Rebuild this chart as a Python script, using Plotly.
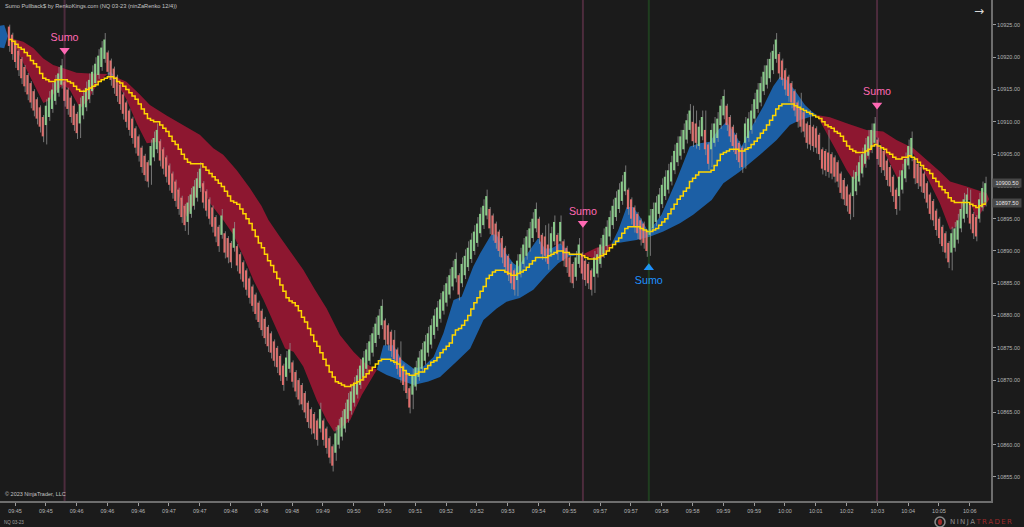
import plotly.graph_objects as go

BASE = 10900.0  # series below are points relative to this price
FIRST_BAR = -2

# Renko closes, one per bar, first row starts at bar -2
closes = [
    21.75, 20.5,
    19.25, 18, 16.75, 15.5, 14.25, 13, 11.75, 10.5, 9.25, 7.75,
    12.5, 13.75, 15, 16.25, 17.5, 18.75, 13.25, 12, 10.75, 9.5,
    8.25, 12.75, 14, 15.25, 16.5, 17.75, 19, 20.25, 21.5, 22.75,
    17.75, 16.5, 15.25, 14, 12.75, 11.25, 10, 8.75, 7.5, 6,
    4.75, 3, 1.75, .75, 6.25, 7.5, 8.75, 4, 2.75, 1.5,
    .25, -1, -2.25, -3.5, -4.75, -6, -2.5, -1.25, 0, 1.25,
    2.75, -2.5, -3.75, -5, -6.25, -7.75, -9.25, -4.5, -10.25, -11,
    -11.75, -6.5, -12.25, -13.5, -14.75, -16, -17.25, -18.5, -19.75, -21,
    -22.25, -23.5, -24.75, -25.75, -27, -28, -29.25, -30.75, -26.5, -25.25,
    -30.25, -31.75, -33, -33.75, -35, -36.5, -37.5, -38.25, -39.25, -34.5,
    -39.25, -40.5, -42, -43.25, -38.25, -37, -35.75, -34.5, -33, -31.75,
    -30.5, -29.25, -27.75, -26.5, -25.25, -24, -22.75, -21.25, -20, -18.5,
    -23.75, -24.5, -25.5, -26.75, -28.25, -29.5, -30.75, -32, -34.25, -29.25,
    -28, -26.5, -25.25, -24, -22.75, -21.5, -20, -18.75, -17.5, -16.25,
    -15, -13.75, -12.5, -11.25, -16.75, -12, -10.75, -9.5, -8.25, -7,
    -5.75, -4.25, -3, -1.5, -6.5, -7.5, -8.75, -10, -11, -12.5,
    -13.75, -15, -16, -11.5, -10.5, -9, -7.75, -6.5, -5, -3.5,
    -8, -10.5, -10.75, -12, -7.25, -5.5, -10.5, -5.5, -11.5, -12.5,
    -14, -15, -11, -9, -13.5, -14.5, -15, -16, -11, -10.5,
    -9, -7.5, -6.25, -4.75, -3, -1.75, -.5, .75, 2.25, -3.5,
    -5, -6.25, -7.25, -8.25, -8.75, -10, -4.5, -3.5, -2.5, -1.25,
    .25, 1.5, 2.5, 3.75, 5.5, 6.75, 7.75, 8.75, 10.25, 11.75,
    7, 6.75, 9.25, 10.75, 5.75, 3.5, 8.75, 9.75, 10.5, 12.5,
    14, 9.5, 7.75, 6.25, 5, 3.75, 3, 9.75, 10.5, 11.75,
    13.5, 15, 16, 17.75, 18.75, 19.75, 21, 22.75, 17.5, 16.5,
    15, 14, 13, 11.75, 10, 9.25, 8.5, 6.75, 6.5, 6.25,
    6, 5, 2.75, 2.5, 2.25, 2, 1.5, .75, -1, -2,
    -3, -4.25, 1.5, 2.25, 3.75, 5, 6.5, 7.75, 8.75, 9.75,
    4.25, 3, 2.5, 1, 0, -1.5, -3.5, 1.5, 2.5, 4.25,
    6.25, 7.5, 1.25, .5, 0, -1, -2.5, -4.25, -5.25, -6.75,
    -8, -9.25, -10.25, -11.75, -7.25, -6.5, -5.25, -3.5, -2, -1.25,
    -5.75, -7.25, -7.75, -2, -.25, .5,
]
BODY = 3.0
WICK_ABOVE_UP, WICK_BELOW_UP = 1.0, 0.6
WICK_ABOVE_DOWN, WICK_BELOW_DOWN = 0.3, 0.9
long_highs = {123: -22.25, 125: -24, 172: -6, 173: -5.75, 220: 12.5, 221: 11.75,
              224: 11.75, 255: 14.5, 258: 11.75, 264: 8.75, 310: -0.5}
long_lows = {10: 6.5, 21: 7.5, 44: 0.25, 56: -7.5, 104: -42.5, 129: -34.5, 163: -17,
             181: -15.75, 188: -16.5, 206: -10.75, 226: 3, 237: 2.75, 272: -4.75,
             287: -3.75, 304: -13, 312: -8.5}

# yellow stepped line, one per bar, same row layout as closes
middle = [
    22.75, 22.5,
    22, 21.5, 21.25, 20.75, 20.25, 19.5, 19, 18.5, 17.5, 16.75,
    16.5, 16.25, 16.25, 16.5, 16.5, 16.5, 16.5, 16.25, 16, 15.5,
    15, 14.75, 14.75, 15, 15.25, 15.5, 15.75, 16.25, 16.5, 16.75,
    17, 17, 16.75, 16.25, 16, 15.5, 15, 14.5, 14, 13.5,
    12.75, 12, 11.25, 10.5, 10.25, 10, 10, 9.5, 9, 8.5,
    7.75, 7, 6.5, 5.75, 5, 4.25, 3.75, 3.5, 3.5, 3.5,
    3.5, 3, 2.5, 2, 1.5, 1, .5, 0, -.75, -1.5,
    -2.25, -2.5, -2.75, -3.5, -4.25, -5, -5.75, -6.75, -7.75, -8.75,
    -9.5, -10.5, -11.5, -12.25, -13.25, -14.25, -15.25, -16.25, -17.25, -17.75,
    -18, -18.5, -19.25, -20.25, -21, -22, -23, -24, -24.75, -25.75,
    -26.75, -27.75, -28.75, -29.5, -30.25, -30.5, -30.75, -31, -31, -30.75,
    -30.5, -30.25, -30, -29.5, -29, -28.5, -28, -27.5, -27, -26.75,
    -26.75, -26.75, -27, -27.25, -27.5, -28, -28.5, -29, -29.25, -29.25,
    -29, -28.75, -28.75, -28.25, -27.75, -27.25, -27, -26.5, -25.75, -25.25,
    -24.75, -24.25, -23, -22.25, -22, -21.5, -20.75, -20, -19, -18,
    -17.25, -16.25, -15.5, -14.25, -13.75, -13.25, -13, -13, -13, -13.25,
    -13.5, -13.75, -13.75, -13.5, -13.25, -13, -12.5, -12, -11.5, -11,
    -11, -11, -11, -10.75, -10.5, -10.25, -10, -10, -10.25, -10.25,
    -10.5, -10.5, -10.5, -10.5, -10.75, -11, -11.25, -11.25, -11.25, -11,
    -10.75, -10.5, -10, -9.5, -9, -8.5, -8, -7.25, -6.5, -6.25,
    -6.25, -6.25, -6.25, -6.5, -6.75, -7, -7, -6.75, -6.5, -6,
    -5.5, -5, -4.25, -3.5, -2.75, -2, -1.5, -.75, -.25, .75,
    1.25, 1.75, 2.25, 2.25, 2.25, 2.25, 2.5, 3.25, 4, 5,
    5.25, 5.5, 5.75, 5.75, 5.75, 5.5, 5.5, 5.75, 6, 6.5,
    7, 7.5, 8.25, 8.75, 9.5, 10.25, 11, 12, 12.5, 12.75,
    12.75, 12.75, 12.75, 12.5, 12.25, 12, 11.75, 11.5, 11.25, 11,
    10.75, 10.5, 10, 9.5, 9.25, 9, 8.5, 8.25, 7.75, 7,
    6.25, 5.75, 5.5, 5.25, 5.25, 5.25, 5.5, 5.75, 6.25, 6.5,
    6.25, 6, 5.75, 5.25, 5, 4.5, 4.25, 4.25, 4.5, 4.5,
    4.75, 4.5, 4.25, 3.75, 3.25, 2.75, 2.5, 2, 1.25, .75,
    0, -.5, -1, -1.75, -2.25, -2.5, -2.5, -2.5, -2.5, -2.5,
    -2.75, -3, -3.25, -3, -2.75, -2.5,
]

# cloud pieces between the two averages
blue_0_top_x = [-4.87, -3.5, -2.3]
blue_0_top = [24.9, 25, 23.3]
blue_0_bot_x = [-4.87, -3.5, -2.3]
blue_0_bot = [21.5, 21.4, 23.3]

red_1_top_x = [-2.3, -1.1, 2.7, 6, 9.2, 12.4, 15.7, 20, 24.4, 28.7, 30]
red_1_top = [23.3, 22.9, 22.4, 21.4, 19.8, 18.8, 18.3, 17.6, 17.5, 17.5, 17.4]
red_1_bot_x = [-2.3, -1.1, 1.6, 4.9, 9.2, 11.4, 13, 15.7, 17.9, 21.1, 23.8, 26.5, 29, 30]
red_1_bot = [23.3, 22.7, 20.1, 17, 12.9, 13.4, 14.7, 15.7, 14.9, 12.1, 13.4, 15.7, 17, 17.4]

blue_2_top_x = [30, 31, 32.5]
blue_2_top = [17.4, 17.8, 17]
blue_2_bot_x = [30, 31, 32.5]
blue_2_bot = [17.4, 17.2, 17]

red_3_top_x = [32.5, 36.2, 40.6, 43.8, 49.2, 54.7, 60, 64.4, 67.6, 72, 76.3, 80, 82.3, 86, 89.3,
               93.6, 97.4, 101.2, 105.5, 109.9, 113.7, 117.5]
red_3_top = [17, 16.2, 14.2, 12.6, 11, 9.5, 8, 5.9, 4.9, 2.5, -.3, -3, -5.2, -7.8, -10.1,
             -12.9, -16, -18.9, -23, -25.6, -27.4, -28.4]
red_3_bot_x = [32.5, 33, 36.3, 39.5, 42.8, 46.5, 49.2, 53, 55.7, 57.9, 60, 63.3, 67.6, 70.9, 74.2,
               77.4, 80.7, 84.4, 87.7, 90.4, 93.6, 98, 101.2, 103.6, 105.5, 108.8, 112.6, 117.5]
red_3_bot = [17, 16.2, 13.4, 9.8, 6.7, 6.9, 3.6, -1.1, -4.7, -2.9, .5, -2.6, -5.2, -7.5, -10.9,
             -14.5, -17.6, -21.5, -25.1, -25.6, -27.9, -33.1, -36.2, -38, -37.5, -36.2, -32.3, -28.4]

blue_4_top_x = [117.5, 119.6, 122.9, 125.6, 129.4, 132.6, 135.9, 139.1, 142.4, 145, 148.8, 151, 154.7,
                156.4, 159, 161.8, 163.4, 169.9, 172, 174.2, 177, 180.2, 184.5]
blue_4_top = [-28.4, -24.6, -24.6, -26.9, -28.2, -27.9, -26.4, -22.75, -17.6, -17.1, -12.4, -10.4, -7.4,
              -7.5, -10.1, -11.9, -12.4, -8, -9.6, -9.6, -8.8, -10.4, -10.5]
blue_4_bot_x = [117.5, 120.7, 125, 129.4, 134.2, 138, 143.4, 147.8, 152.1, 156.4, 159.6, 163.9, 168.3,
                172.6, 176.4, 179.6, 184.5]
blue_4_bot = [-28.4, -29.2, -30, -30.75, -30.2, -29.5, -27.1, -25.1, -20.7, -18.9, -17.85, -17.3, -16,
              -13.7, -11.9, -10.9, -10.5]

red_5_top_x = [184.5, 188.8, 193.7]
red_5_top = [-10.5, -9.5, -8.9]
red_5_bot_x = [184.5, 189.4, 192.1, 193.7]
red_5_bot = [-10.5, -11.5, -10.4, -8.9]

blue_6_top_x = [193.7, 195.9, 198.6, 200.7, 202.9, 205.6, 207, 209.9, 214.8, 219.1, 222.4, 225.6, 228.3,
                231, 233.8, 235.9, 238.6, 243, 246.2, 248.4, 250.5, 253.2, 256.5, 258.7, 260.3]
blue_6_top = [-8.9, -6.75, -3.2, -3.2, -4.7, -7, -6.2, -4.4, 1, 6.2, 6.7, 6.9, 8.75,
              10, 8.2, 6.2, 8.75, 12.4, 15.5, 17, 16.5, 14.9, 12.6, 11.6, 11.07]
blue_6_bot_x = [193.7, 196.4, 201.8, 206.1, 210.5, 215.9, 220.2, 226.2, 230, 235.4, 241.9, 247.3,
                251.6, 254.9, 260.3]
blue_6_bot = [-8.9, -8.7, -8.3, -7.8, -7, -5.7, -4.4, -2.1, .5, 2.3, 4.9, 7.2,
              9.5, 10.3, 11.07]

red_7_top_x = [260.3, 264.6, 270, 276.5, 281.9, 286.2, 291.7, 296, 300.3, 303.6, 309, 315.5, 316.3]
red_7_top = [11.07, 10.7, 9.8, 8.75, 8.5, 7.2, 5.9, 4.1, 2.3, .75, 0, -1.07, -2]
red_7_bot_x = [260.3, 262.4, 266.8, 270, 272.2, 274.9, 277.6, 279.8, 280.8, 284.1, 286.8, 289.5, 291.1,
               293.8, 297.1, 300.3, 303.6, 305.7, 308.4, 310, 312.2, 316.3]
red_7_bot = [11.07, 9.3, 5.4, 2.55, 1, 2.3, 5.1, 7.7, 6.9, 3.6, 1, 3.6, 5.4,
             3.6, .5, -2.6, -6.7, -6.2, -2.1, -2.1, -5.2, -2]

# x axis
tick_bars = list(range(0, 320, 10))
tick_labels = ["09:45", "09:45", "09:46", "09:46", "09:46", "09:47", "09:47", "09:48", "09:48", "09:48",
               "09:49", "09:50", "09:50", "09:51", "09:52", "09:52", "09:53", "09:54", "09:55", "09:57", "09:57",
               "09:58", "09:58", "09:59", "09:59", "10:00", "10:01", "10:02", "10:03", "10:04", "10:05", "10:06"]
price_ticks = [10855, 10860, 10865, 10870, 10875, 10880, 10885, 10890, 10895, 10900, 10905, 10910, 10915, 10920, 10925]

# Sumo signals
sell_bars = [16.1, 184.4, 279.9]
sell_prices = [21.1, -5.7, 12.6]
sell_text_prices = [23, -4, 14.5]
buy_bars = [205.8]
buy_prices = [-12.6]
buy_text_prices = [-14.65]

last_prices = [10900.50, 10897.50]

BG = "#1b1b1b"
AXIS = "#6e6e6e"
TEXT = "#b4b4b4"
RED = "#8d1730"
BLUE = "#1c5fa5"
PINK = "#ff69b4"
DODGER = "#1e90ff"
FONT = "Liberation Sans"

PLOT_W, PLOT_H = 991.0, 501.0
X_RANGE = [-4.87, 316.9]
Y_RANGE = [BASE - 48.72, BASE + 28.87]


def px(x):
    return x / PLOT_W


def py(y):
    return (PLOT_H - y) / PLOT_H


def label(fig, x, y, text, size=5.5, color=TEXT, family=FONT, anchor="left"):
    fig.add_annotation(x=px(x), y=py(y), xref="paper", yref="paper", text=text, showarrow=False,
                       xanchor=anchor, yanchor="middle", font=dict(size=size, color=color, family=family))


def add_cloud(fig, color, top_x, top, bot_x, bot):
    fig.add_trace(go.Scatter(
        x=top_x + bot_x[::-1],
        y=[BASE + v for v in top + bot[::-1]],
        mode="lines", fill="toself", fillcolor=color, line=dict(width=0), hoverinfo="skip",
    ))


def add_signal(fig, bars, prices, text_prices, symbol, color):
    fig.add_trace(go.Scatter(x=bars, y=[BASE + v for v in prices], mode="markers",
                             marker=dict(symbol=symbol, size=9, color=color)))
    fig.add_trace(go.Scatter(x=bars, y=[BASE + v for v in text_prices], mode="text", text=["Sumo"] * len(bars),
                             textposition="middle center", textfont=dict(size=10.7, color=color, family=FONT)))


fig = go.Figure()

add_cloud(fig, BLUE, blue_0_top_x, blue_0_top, blue_0_bot_x, blue_0_bot)
add_cloud(fig, RED, red_1_top_x, red_1_top, red_1_bot_x, red_1_bot)
add_cloud(fig, BLUE, blue_2_top_x, blue_2_top, blue_2_bot_x, blue_2_bot)
add_cloud(fig, RED, red_3_top_x, red_3_top, red_3_bot_x, red_3_bot)
add_cloud(fig, BLUE, blue_4_top_x, blue_4_top, blue_4_bot_x, blue_4_bot)
add_cloud(fig, RED, red_5_top_x, red_5_top, red_5_bot_x, red_5_bot)
add_cloud(fig, BLUE, blue_6_top_x, blue_6_top, blue_6_bot_x, blue_6_bot)
add_cloud(fig, RED, red_7_top_x, red_7_top, red_7_bot_x, red_7_bot)

# split bars into bodies and wicks, drawn as gapped lines so they sit above the cloud
wick_x, wick_y = [], []
up_x, up_y = [], []
down_x, down_y = [], []
going_up = False
prev = None
for n, close in enumerate(closes):
    bar = FIRST_BAR + n
    if prev is not None and close != prev:
        going_up = close > prev
    prev = close
    if going_up:
        high = close + WICK_ABOVE_UP
        low = close - BODY - WICK_BELOW_UP
        up_x += [bar, bar, None]
        up_y += [BASE + close - BODY, BASE + close, None]
    else:
        high = close + BODY + WICK_ABOVE_DOWN
        low = close - WICK_BELOW_DOWN
        down_x += [bar, bar, None]
        down_y += [BASE + close, BASE + close + BODY, None]
    high = long_highs.get(bar, high)
    low = long_lows.get(bar, low)
    wick_x += [bar + 0.3, bar + 0.3, None]
    wick_y += [BASE + low, BASE + high, None]

fig.add_trace(go.Scatter(x=wick_x, y=wick_y, mode="lines", line=dict(color="rgba(150,150,150,0.75)", width=1),
                         hoverinfo="skip"))
fig.add_trace(go.Scatter(x=up_x, y=up_y, mode="lines", line=dict(color="rgba(145,216,146,0.92)", width=2),
                         hoverinfo="skip"))
fig.add_trace(go.Scatter(x=down_x, y=down_y, mode="lines", line=dict(color="rgba(238,116,114,0.92)", width=2),
                         hoverinfo="skip"))

fig.add_trace(go.Scatter(
    x=list(range(FIRST_BAR, FIRST_BAR + len(middle))),
    y=[BASE + v for v in middle],
    mode="lines", line=dict(color="#ffd700", width=1.5, shape="hv"),
))

add_signal(fig, sell_bars, sell_prices, sell_text_prices, "triangle-down", PINK)
add_signal(fig, buy_bars, buy_prices, buy_text_prices, "triangle-up", DODGER)

for bar in sell_bars:
    fig.add_shape(type="line", x0=bar, x1=bar, y0=0, y1=1, yref="paper", layer="above",
                  line=dict(color="rgba(255,105,180,0.22)", width=2))
for bar in buy_bars:
    fig.add_shape(type="line", x0=bar, x1=bar, y0=0, y1=1, yref="paper", layer="above",
                  line=dict(color="rgba(50,205,50,0.2)", width=2))

# last price tags with their pointers
fig.add_trace(go.Scatter(
    x=[X_RANGE[1] + 0.6] * len(last_prices), y=last_prices, mode="markers", cliponaxis=False,
    marker=dict(symbol="triangle-left", size=8, color="#474747"),
))
for price in last_prices:
    fig.add_annotation(x=px(1007), y=price, xref="paper", yref="y", text=f"{price:.2f}", showarrow=False,
                       xanchor="center", yanchor="middle", bgcolor="#474747", width=28, height=8, borderpad=0,
                       font=dict(size=5.5, color="#e6e6e6", family=FONT))

label(fig, 3, 6, "Sumo Pullback$ by RenkoKings.com (NQ 03-23 (ninZaRenko 12/4))", size=5.7, color="#c4c4c4")
label(fig, 3, 494, "© 2023 NinjaTrader, LLC", size=5.5, color="#c4c4c4")
label(fig, 2, 522, "NQ 03-23", size=4.6, color="#a0a0a0")
label(fig, 979, 11, "→", size=12, color="#d8d8d8", family="DejaVu Sans", anchor="center")
label(fig, 948, 522,
      '<span style="color:#8c8c8c">' + "\u2009".join("NINJA") + '</span>\u2009'
      '<span style="color:#9c2a2a">' + "\u2009".join("TRADER") + '</span>',
      size=7, family="DejaVu Sans")

# logo mark
fig.add_shape(type="circle", xref="paper", yref="paper", x0=px(935), x1=px(945), y0=py(527), y1=py(517),
              line=dict(color="#8c8c8c", width=1.5))
fig.add_shape(type="circle", xref="paper", yref="paper", x0=px(938), x1=px(942), y0=py(525), y1=py(519),
              fillcolor="#a52a2a", line=dict(width=0))

fig.update_layout(
    width=1024, height=527,
    margin=dict(l=0, r=1024 - PLOT_W, t=0, b=527 - PLOT_H, autoexpand=False),
    paper_bgcolor=BG, plot_bgcolor=BG,
    showlegend=False,
    font=dict(family=FONT, size=5.5, color=TEXT),
)
fig.update_xaxes(
    range=X_RANGE, tickmode="array", tickvals=tick_bars, ticktext=tick_labels,
    showgrid=False, zeroline=False, showline=True, linecolor=AXIS, linewidth=2,
    ticks="outside", ticklen=3, tickcolor="#9a9a9a", tickwidth=1, tickangle=0,
    tickfont=dict(size=5.5, color=TEXT, family=FONT), automargin=False,
)
fig.update_yaxes(
    range=Y_RANGE, side="right", tickmode="array", tickvals=price_ticks,
    ticktext=[f"{p:.2f}" for p in price_ticks],
    showgrid=False, zeroline=False, showline=True, linecolor=AXIS, linewidth=2,
    ticks="outside", ticklen=3, tickcolor="#9a9a9a", tickwidth=1,
    tickfont=dict(size=5.5, color=TEXT, family=FONT), automargin=False,
)

fig.write_html("out.html", config=dict(displayModeBar=False),
               post_script="document.body.style.margin='0';")
